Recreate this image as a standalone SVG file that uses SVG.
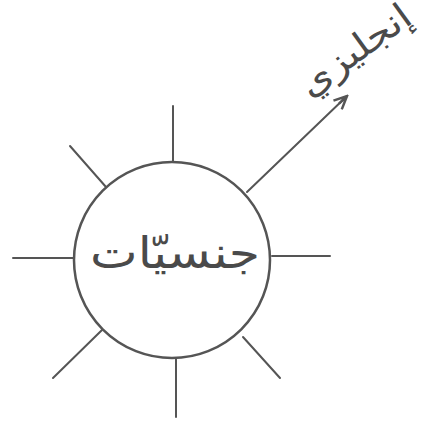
<svg xmlns="http://www.w3.org/2000/svg" width="426" height="422" viewBox="0 0 426 422">
<defs>
<style>
.ln{stroke:#555;stroke-width:2;fill:none;stroke-linecap:round}
.txt{font-family:"DejaVu Sans",sans-serif;fill:#4a4a4a}
</style>
<marker id="ah" markerWidth="16" markerHeight="14" refX="14" refY="7" orient="auto" markerUnits="userSpaceOnUse">
<path d="M1,1 L14,7 L1,13 M14,7 L3,7" fill="none" stroke="#555" stroke-width="2.5"/>
</marker>
</defs>
<rect width="426" height="422" fill="#fff"/>
<g id="connectors">
<line class="ln" x1="173" y1="106" x2="173" y2="162"/>
<line class="ln" x1="13" y1="258" x2="74" y2="258"/>
<line class="ln" x1="272" y1="256" x2="330" y2="256"/>
<line class="ln" x1="176" y1="359" x2="176" y2="417"/>
<line class="ln" x1="70" y1="146" x2="106" y2="187"/>
<line class="ln" x1="102" y1="330" x2="53" y2="378"/>
<line class="ln" x1="243" y1="337" x2="280" y2="378"/>
<line class="ln" x1="247" y1="192" x2="347" y2="96" stroke-width="3" marker-end="url(#ah)"/>
</g>
<g id="center">
<circle cx="172" cy="260" r="98" fill="#fff" stroke="#555" stroke-width="2.5"/>
<text class="txt" x="175" y="268" font-size="44" text-anchor="middle" textLength="170" lengthAdjust="spacingAndGlyphs">جنسيّات</text>
</g>
<g id="label-english">
<text class="txt" x="0" y="0" font-size="36" text-anchor="middle" textLength="130" lengthAdjust="spacingAndGlyphs" transform="translate(362,60) rotate(-36)">إنجليزي</text>
</g>
</svg>
